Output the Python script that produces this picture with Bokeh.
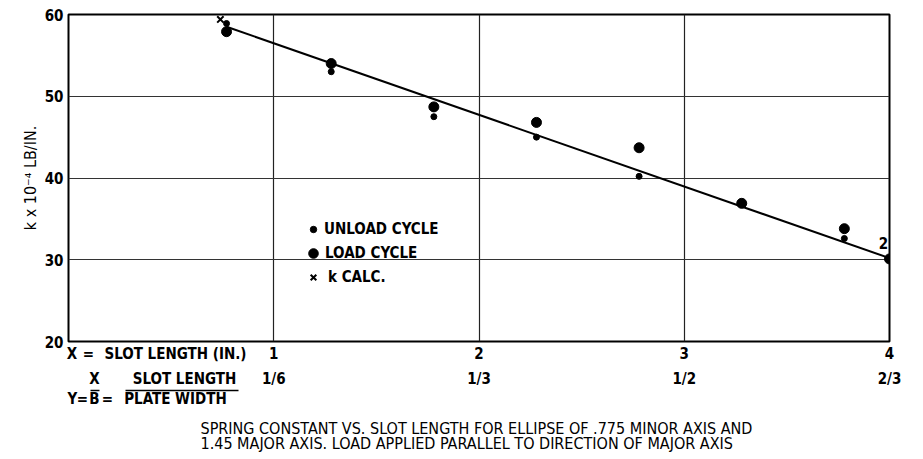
from bokeh.plotting import figure
from bokeh.models import (Range1d, FixedTicker, LinearAxis, Label, Legend, LegendItem, Title)
from bokeh.embed import file_html
from bokeh.resources import INLINE

# ---- data ----
slot_x = [0.77, 1.28, 1.78, 2.28, 2.78, 3.28, 3.78, 4.0]
load_k = [57.9, 54.0, 48.7, 46.8, 43.7, 36.9, 33.8, 30.1]
unload_k = [58.9, 53.0, 47.5, 45.0, 40.2, 37.0, 32.6, 30.0]
kcalc_x = [0.74]
kcalc_k = [59.4]
fit_x = [0.77, 4.0]
fit_k = [58.5, 30.2]

x_ticks = [1, 2, 3, 4]
x_tick_labels = ["1", "2", "3", "4"]
ratio_tick_labels = ["1/6", "1/3", "1/2", "2/3"]
y_ticks = [20, 30, 40, 50, 60]

caption1 = "SPRING CONSTANT VS. SLOT LENGTH FOR ELLIPSE OF .775 MINOR AXIS AND"
caption2 = "1.45 MAJOR AXIS. LOAD APPLIED PARALLEL TO DIRECTION OF MAJOR AXIS"

FONT = "DejaVu Sans Condensed, Liberation Sans, sans-serif"

X0, X1, Y0, Y1 = 0, 4, 20, 60
FW = 821  # frame width in px


def px_x(dx):
    """pixel offset from the frame's left edge -> x data value (for text placement)"""
    return round(X0 + dx * (X1 - X0) / FW, 4)


p = figure(width=923, height=459, output_backend="svg", toolbar_location=None,
           x_range=Range1d(X0, X1), y_range=Range1d(Y0, Y1),
           min_border_left=68, min_border_right=34, min_border_top=14, min_border_bottom=117)
p.background_fill_color = "white"
p.border_fill_color = "white"
p.outline_line_color = "black"
p.outline_line_width = 2


def style_axis(ax, standoff, size="15px", style="bold"):
    ax.axis_line_color = None
    ax.major_tick_line_color = None
    ax.minor_tick_line_color = None
    ax.major_tick_out = 0
    ax.minor_tick_out = 0
    ax.major_tick_in = 0
    ax.minor_tick_in = 0
    ax.major_label_text_font = FONT
    ax.major_label_text_font_size = size
    ax.major_label_text_font_style = style
    ax.major_label_text_color = "black"
    ax.major_label_standoff = standoff


# row A: X = SLOT LENGTH (IN.)   1 2 3 4
rowA_pos = [px_x(3.5), px_x(20), px_x(107)]
rowA_txt = ["X", "=", "SLOT LENGTH (IN.)"]
p.xaxis.ticker = FixedTicker(ticks=rowA_pos + x_ticks)
p.xaxis.major_label_overrides = dict(zip(rowA_pos + x_ticks, rowA_txt + x_tick_labels))
style_axis(p.xaxis[0], 3)

# y axis
style_axis(p.yaxis[0], 5)
p.yaxis.ticker = FixedTicker(ticks=y_ticks)
p.yaxis.axis_label = "k x 10⁻⁴ LB/IN."
p.yaxis.axis_label_text_font = FONT
p.yaxis.axis_label_text_font_size = "16px"
p.yaxis.axis_label_text_font_style = "normal"
p.yaxis.axis_label_text_color = "black"
p.yaxis.axis_label_standoff = 2

# row B: numerators and 1/6 1/3 1/2 2/3
rowB_pos = [px_x(26), px_x(116)]
rowB_txt = ["X", "SLOT LENGTH"]
axB = LinearAxis(ticker=FixedTicker(ticks=rowB_pos + x_ticks),
                 major_label_overrides=dict(zip(rowB_pos + x_ticks, rowB_txt + ratio_tick_labels)))
style_axis(axB, 4)
p.add_layout(axB, "below")

# fraction bars (axis lines limited by bounds)
for b0, b1 in [(px_x(22), px_x(31)), (px_x(57), px_x(170))]:
    bar = LinearAxis(ticker=FixedTicker(ticks=[]), bounds=(b0, b1))
    style_axis(bar, 0)
    bar.axis_line_color = "black"
    bar.axis_line_width = 1.5
    p.add_layout(bar, "below")

# row C: Y = B = PLATE WIDTH
rowC_pos = [px_x(4), px_x(14), px_x(26), px_x(39), px_x(107)]
rowC_txt = ["Y", "=", "B", "=", "PLATE WIDTH"]
axC = LinearAxis(ticker=FixedTicker(ticks=rowC_pos),
                 major_label_overrides=dict(zip(rowC_pos, rowC_txt)))
style_axis(axC, -1)
p.add_layout(axC, "below")

# caption (two lines in one title)
p.add_layout(Title(text=caption1 + "\n" + caption2, align="left", offset=132, standoff=12,
                   text_font=FONT, text_font_size="16px", text_font_style="normal",
                   text_color="black", text_line_height=0.82), "below")

p.xgrid.ticker = FixedTicker(ticks=[1, 2, 3])
p.ygrid.ticker = FixedTicker(ticks=[30, 40, 50])
p.xgrid.grid_line_color = "#222222"
p.ygrid.grid_line_color = "#333333"
p.xgrid.grid_line_width = 1.2
p.ygrid.grid_line_width = 1

# marks
p.line(fit_x, fit_k, line_color="black", line_width=2)
r_load = p.scatter(slot_x, load_k, marker="circle", size=10, color="black")
r_unload = p.scatter(slot_x, unload_k, marker="circle", size=6, color="black")
r_calc = p.scatter(kcalc_x, kcalc_k, marker="x", size=9, line_color="black", line_width=2)

p.add_layout(Label(x=slot_x[-1], y=load_k[-1], text="2", x_offset=-6, y_offset=16,
                   text_align="center", text_baseline="middle", text_font=FONT,
                   text_font_size="15px", text_font_style="bold", text_color="black"))


# legends (one per item to keep the marker sizes distinct)
def add_legend(label, r, loc, g, standoff):
    lg = Legend(items=[LegendItem(label=label, renderers=[r])], location=loc,
                glyph_width=g, glyph_height=g, label_standoff=standoff, padding=0, margin=0,
                border_line_color=None, background_fill_alpha=0,
                label_text_font=FONT, label_text_font_size="15px", label_text_font_style="bold",
                label_text_color="black")
    p.add_layout(lg, "center")


add_legend("UNLOAD CYCLE", r_unload, (237, 103), 16, 3)
add_legend("LOAD CYCLE", r_load, (233, 76), 24, 0)
add_legend("k CALC.", r_calc, (235, 54), 20, 5)

open("out.html", "w").write(file_html(p, INLINE))
